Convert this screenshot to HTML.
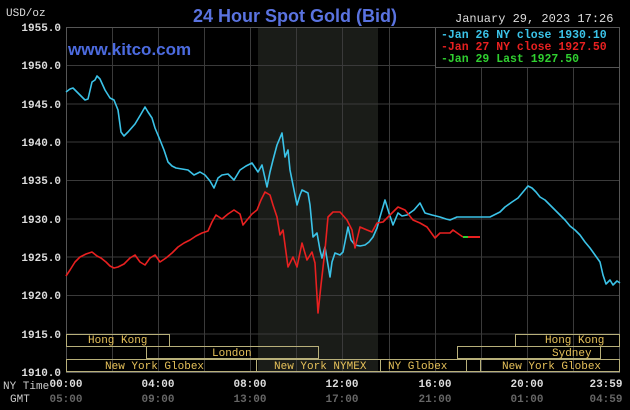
<!DOCTYPE html>
<html><head><style>
html,body{margin:0;padding:0;background:#000;}
svg{display:block;}
.m{font-family:"Liberation Mono","DejaVu Sans Mono",monospace;}
</style></head><body>
<svg width="630" height="410" viewBox="0 0 630 410" xmlns="http://www.w3.org/2000/svg">
<rect width="630" height="410" fill="#000"/>
<rect x="258" y="27" width="120" height="345" fill="#1a1c18"/>
<g stroke="#3a3a3a" stroke-width="1">
<line x1="66" y1="65.5" x2="620" y2="65.5"/><line x1="66" y1="104" x2="620" y2="104"/>
<line x1="66" y1="142" x2="620" y2="142"/><line x1="66" y1="180.5" x2="620" y2="180.5"/>
<line x1="66" y1="219" x2="620" y2="219"/><line x1="66" y1="257" x2="620" y2="257"/>
<line x1="66" y1="295.5" x2="620" y2="295.5"/><line x1="66" y1="334" x2="620" y2="334"/>
<line x1="112.5" y1="27" x2="112.5" y2="372"/><line x1="158.5" y1="27" x2="158.5" y2="372"/>
<line x1="204.5" y1="27" x2="204.5" y2="372"/><line x1="250.5" y1="27" x2="250.5" y2="372"/>
<line x1="296.5" y1="27" x2="296.5" y2="372"/><line x1="342.5" y1="27" x2="342.5" y2="372"/>
<line x1="389.5" y1="27" x2="389.5" y2="372"/><line x1="435.5" y1="27" x2="435.5" y2="372"/>
<line x1="481.5" y1="27" x2="481.5" y2="372"/><line x1="527.5" y1="27" x2="527.5" y2="372"/>
<line x1="573.5" y1="27" x2="573.5" y2="372"/>
</g>
<rect x="66.5" y="27.5" width="553" height="345" fill="none" stroke="#555" stroke-width="1"/>
<!-- session boxes -->
<g fill="none" stroke="#b8b07a" stroke-width="1">
<rect x="66.5" y="334.5" width="103" height="12"/>
<rect x="515.5" y="334.5" width="104" height="12"/>
<rect x="146.5" y="346.5" width="172" height="12"/>
<rect x="457.5" y="346.5" width="143" height="12"/>
<rect x="66.5" y="359.5" width="190" height="12"/>
<rect x="256.5" y="359.5" width="124" height="12"/>
<rect x="380.5" y="359.5" width="86" height="12"/>
<rect x="466.5" y="359.5" width="14" height="12"/>
<rect x="480.5" y="359.5" width="139" height="12"/>
</g>
<g class="m" fill="#e6c15a" font-size="11">
<text x="88" y="343">Hong Kong</text>
<text x="545" y="343">Hong Kong</text>
<text x="212" y="356">London</text>
<text x="552" y="356">Sydney</text>
<text x="105" y="369">New York Globex</text>
<text x="274" y="369">New York NYMEX</text>
<text x="388" y="369">NY Globex</text>
<text x="502" y="369">New York Globex</text>
</g>
<!-- y labels -->
<g class="m" fill="#ddd" font-size="11" font-weight="bold" text-anchor="end">
<text x="61" y="31">1955.0</text><text x="61" y="69">1950.0</text>
<text x="61" y="108">1945.0</text><text x="61" y="146">1940.0</text>
<text x="61" y="184">1935.0</text><text x="61" y="223">1930.0</text>
<text x="61" y="261">1925.0</text><text x="61" y="299">1920.0</text>
<text x="61" y="338">1915.0</text><text x="61" y="376">1910.0</text>
</g>
<text class="m" x="6" y="16" fill="#ddd" font-size="11">USD/oz</text>
<text x="295" y="22" fill="#5a73e0" font-family="Liberation Sans,sans-serif" font-size="18" font-weight="bold" text-anchor="middle">24 Hour Spot Gold (Bid)</text>
<text x="68" y="55" fill="#4c6be0" font-family="Liberation Sans,sans-serif" font-size="17" font-weight="bold">www.kitco.com</text>
<text class="m" x="455" y="22" fill="#ddd" font-size="12">January 29, 2023 17:26</text>
<rect x="435.5" y="27.5" width="184" height="40" fill="#000" stroke="#555"/>
<g class="m" font-size="11.5" font-weight="bold">
<text x="441" y="38" fill="#3bc3e8">-Jan 26 NY close 1930.10</text>
<text x="441" y="50" fill="#e82020">-Jan 27 NY close 1927.50</text>
<text x="441" y="62" fill="#30d030">-Jan 29 Last 1927.50</text>
</g>
<!-- x labels -->
<g class="m" font-size="11" font-weight="bold" text-anchor="middle">
<g fill="#ddd">
<text x="66" y="387">00:00</text><text x="158" y="387">04:00</text><text x="250" y="387">08:00</text>
<text x="342" y="387">12:00</text><text x="435" y="387">16:00</text><text x="527" y="387">20:00</text><text x="606" y="387">23:59</text>
</g>
<g fill="#666">
<text x="66" y="402">05:00</text><text x="158" y="402">09:00</text><text x="250" y="402">13:00</text>
<text x="342" y="402">17:00</text><text x="435" y="402">21:00</text><text x="527" y="402">01:00</text><text x="606" y="402">04:59</text>
</g>
</g>
<text class="m" x="3" y="389" fill="#ccc" font-size="11">NY Time</text>
<text class="m" x="10" y="402" fill="#ccc" font-size="11">GMT</text>
<!-- series -->
<polyline fill="none" stroke="#3bc3e8" stroke-width="1.6" stroke-linejoin="round" points="66,92 70,89 73,88 78,93 85,100 88,99 92,82 95,80 97,76 100,79 105,90 110,98 114,100 118,110 121,132 124,136 128,132 135,124 141,114 145,107 148,112 152,118 155,128 160,140 164,150 168,162 172,166 176,168 182,169 188,170 194,175 200,172 205,175 210,181 214,188 218,178 222,175 228,174 234,180 240,170 246,166 252,163 258,172 262,165 267,187 270,172 273,160 277,145 282,133 285,157 288,150 290,170 294,190 297,205 300,195 302,190 308,193 310,205 313,237 317,233 320,250 322,258 325,247 328,265 330,277 332,262 335,253 340,255 343,252 348,227 351,240 355,245 360,246 365,245 369,242 373,237 377,228 380,217 385,200 389,213 393,225 398,213 402,216 407,215 414,210 420,203 425,213 432,215 440,217 446,219 450,220 457,217 470,217 490,217 500,212 505,207 512,202 518,198 523,192 528,186 532,188 536,192 540,197 545,200 550,205 555,210 560,215 565,220 570,226 575,230 580,235 585,242 590,248 595,255 600,262 603,275 606,284 610,280 613,285 617,281 620,283"/>
<polyline fill="none" stroke="#e82020" stroke-width="1.6" stroke-linejoin="round" points="66,276 70,270 75,262 80,257 86,254 92,252 97,256 101,258 106,262 110,266 114,268 118,267 124,264 130,258 135,255 140,262 145,265 150,258 155,255 160,262 166,258 172,253 178,247 184,243 190,240 196,236 202,233 208,231 212,222 216,215 222,219 228,214 234,210 240,214 243,225 247,220 252,214 257,210 261,200 265,192 270,195 273,205 277,217 280,235 283,230 288,267 293,257 297,267 302,243 307,260 312,252 315,263 318,313 321,285 325,250 328,217 333,212 340,212 347,220 352,230 355,248 360,227 367,230 372,232 377,223 383,222 390,215 398,207 405,210 413,220 420,223 427,227 435,238 440,233 450,233 453,230 460,235 463,237"/>
<line x1="463" y1="237" x2="468" y2="237" stroke="#30d030" stroke-width="2"/>
<line x1="468" y1="237" x2="480" y2="237" stroke="#e82020" stroke-width="2"/>
</svg>
</body></html>
